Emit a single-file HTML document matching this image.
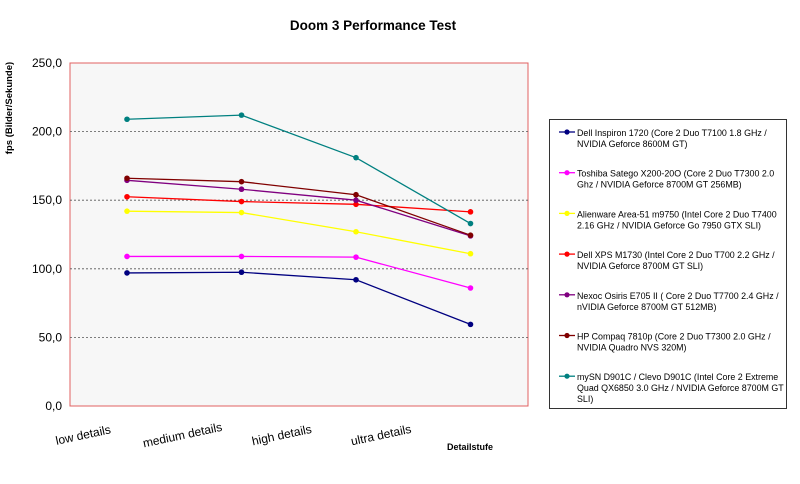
<!DOCTYPE html>
<html><head><meta charset="utf-8"><style>
html,body{margin:0;padding:0;background:#fff;}
svg{display:block;font-family:"Liberation Sans",Arial,sans-serif;}
</style></head><body>
<svg id="chart" width="800" height="484">
<text x="373" y="30" text-anchor="middle" font-size="13.5" font-weight="bold">Doom 3 Performance Test</text>
<text transform="translate(12,108) rotate(-90)" text-anchor="middle" font-size="9.5" font-weight="bold">fps (Bilder/Sekunde)</text>
<text x="470" y="450" text-anchor="middle" font-size="9" font-weight="bold">Detailstufe</text>
<rect x="70" y="63" width="458" height="343" fill="#f7f7f7" stroke="#e06060" stroke-width="1"/>
<g id="grid"></g><g id="yticks"></g><g id="xlabels"></g><g id="series"></g>
<rect x="549.5" y="119.5" width="237" height="289" fill="#fff" stroke="#333"/>
<g id="legend"></g>
</svg>
<script>
const categories = ["low details","medium details","high details","ultra details"];
const yTicks = [0,50,100,150,200,250];
const yTickLabels = ["0,0","50,0","100,0","150,0","200,0","250,0"];
const seriesNames = [
 ["Dell Inspiron 1720 (Core 2 Duo T7100 1.8 GHz /","NVIDIA Geforce 8600M GT)"],
 ["Toshiba Satego X200-20O (Core 2 Duo T7300 2.0","Ghz / NVIDIA Geforce 8700M GT 256MB)"],
 ["Alienware Area-51 m9750 (Intel Core 2 Duo T7400","2.16 GHz / NVIDIA Geforce Go 7950 GTX SLI)"],
 ["Dell XPS M1730 (Intel Core 2 Duo T700  2.2 GHz /","NVIDIA Geforce 8700M GT SLI)"],
 ["Nexoc Osiris E705 II ( Core 2 Duo T7700 2.4 GHz /","nVIDIA Geforce 8700M GT 512MB)"],
 ["HP Compaq 7810p (Core 2 Duo T7300 2.0 GHz /","NVIDIA Quadro NVS 320M)"],
 ["mySN D901C / Clevo D901C (Intel Core 2 Extreme","Quad QX6850 3.0 GHz / NVIDIA Geforce 8700M GT","SLI)"]
];
const seriesColors = ["#000080","#ff00ff","#ffff00","#ff0000","#800080","#800000","#008080"];
const dellInspiron = [97,97.5,92,59.5];
const toshibaSatego = [109,109,108.5,86];
const alienware = [142,141,127,111];
const dellXps = [152.5,149,147,141.5];
const nexocOsiris = [164.5,158,150,124];
const hpCompaq = [166,163.5,154,124.5];
const mySN = [209,212,181,133];
const seriesValues = [dellInspiron,toshibaSatego,alienware,dellXps,nexocOsiris,hpCompaq,mySN];

const NS="http://www.w3.org/2000/svg";
const X0=70,X1=528,Y0=406,Y1=63;
const yScale=v=>Y0-(v/250)*(Y0-Y1);
const xScale=i=>127+i*114.5;
function mk(tag,attrs,parent){const e=document.createElementNS(NS,tag);for(const k in attrs)e.setAttribute(k,attrs[k]);parent.appendChild(e);return e;}
const grid=document.getElementById('grid'),yt=document.getElementById('yticks');
yTicks.forEach((t,i)=>{
  if(t>0&&t<250){const l=mk('line',{x1:X0,x2:X1,y1:yScale(t),y2:yScale(t),stroke:'#555','stroke-dasharray':'2,2','stroke-width':0.8},grid);
  
  }
  const tx=mk('text',{x:62,y:yScale(t)+4,'text-anchor':'end','font-size':12},yt);
  tx.textContent=yTickLabels[i];
  
  
});
const xl=document.getElementById('xlabels');
categories.forEach((c,i)=>{
  const cx=84+i*99.3, cy=439;
  const t=mk('text',{x:cx,y:cy,'text-anchor':'middle','font-size':12,transform:`rotate(-12 ${cx} ${cy})`},xl);
  t.textContent=c;
  
  
});
const sg=document.getElementById('series');
seriesValues.forEach((vals,s)=>{
  const g=mk('g',{},sg);
  
  
  const pts=vals.map((v,i)=>xScale(i)+','+yScale(v)).join(' ');
  const pl=mk('polyline',{points:pts,fill:'none',stroke:seriesColors[s],'stroke-width':1.3},g);
  
  
  vals.forEach((v,i)=>{
    const c=mk('circle',{cx:xScale(i),cy:yScale(v),r:2.8,fill:seriesColors[s]},g);
    
    
  });
});
const lg=document.getElementById('legend');
seriesNames.forEach((lines,s)=>{
  const y=132+s*40.7;
  const g=mk('g',{},lg);
  
  
  mk('line',{x1:559,x2:575,y1:y,y2:y,stroke:seriesColors[s],'stroke-width':1.3},g);
  mk('circle',{cx:567,cy:y,r:2.6,fill:seriesColors[s]},g);
  lines.forEach((ln,k)=>{
    const t=mk('text',{x:577,y:y+4+k*11,'font-size':8.9},g);
    t.textContent=ln;
  });
});
</script>
</body></html>
